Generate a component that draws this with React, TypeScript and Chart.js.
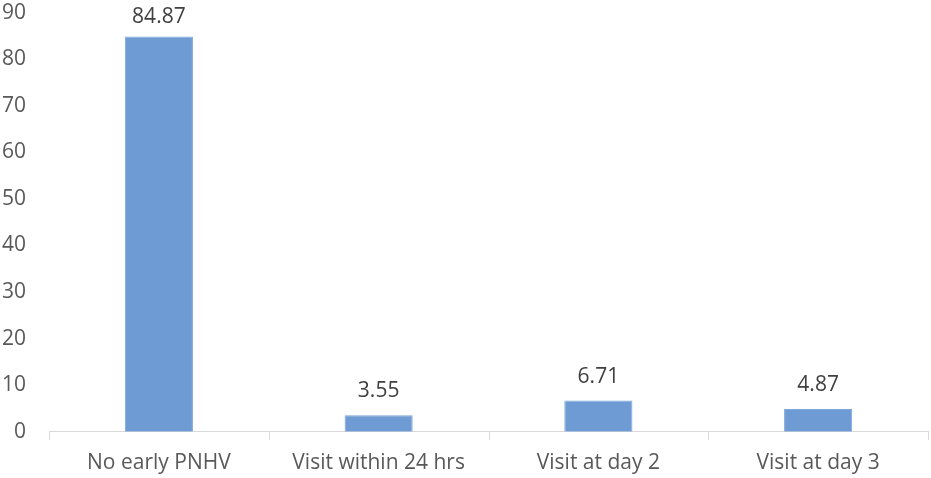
import React, { useEffect, useRef } from "react";
import { Chart, registerables } from "chart.js";

Chart.register(...registerables);

const categories = ["No early PNHV", "Visit within 24 hrs", "Visit at day 2", "Visit at day 3"];
const values = [84.87, 3.55, 6.71, 4.87];
const valueLabels = ["84.87", "3.55", "6.71", "4.87"];

const FONT = "'Open Sans', 'Noto Sans', sans-serif";
const FS = 21;

const labelPlugin = {
  id: "barLabels",
  afterDatasetsDraw(chart: any) {
    const { ctx, chartArea } = chart;
    const meta = chart.getDatasetMeta(0);
    ctx.save();
    ctx.font = `${FS}px ${FONT}`;
    ctx.fillStyle = "#404040";
    ctx.textAlign = "center";
    ctx.textBaseline = "alphabetic";
    meta.data.forEach((bar: any, i: number) => {
      const y = Math.max(bar.y - 18, chartArea.top + 10);
      ctx.fillText(valueLabels[i], bar.x, y);
    });
    ctx.restore();
  },
};

// short tick marks below the x axis at category boundaries
const xTickPlugin = {
  id: "xTicks",
  afterDraw(chart: any) {
    const { ctx, chartArea } = chart;
    const n = categories.length;
    const step = (chartArea.right - chartArea.left) / n;
    ctx.save();
    ctx.strokeStyle = "#d9d9d9";
    ctx.lineWidth = 1;
    ctx.beginPath();
    for (let i = 0; i <= n; i++) {
      const px = Math.round(chartArea.left + step * i) + 0.5;
      ctx.moveTo(px, chartArea.bottom);
      ctx.lineTo(px, chartArea.bottom + 8);
    }
    ctx.stroke();
    ctx.restore();
  },
};

export default function App() {
  const ref = useRef<HTMLCanvasElement>(null);
  useEffect(() => {
    document.body.style.margin = "0";
    const chart = new Chart(ref.current!, {
      type: "bar",
      data: {
        labels: categories,
        datasets: [
          {
            data: values,
            backgroundColor: "#6f9bd5",
            borderColor: "#7ea6da",
            borderWidth: 1,
            categoryPercentage: 1,
            barPercentage: 0.31,
          },
        ],
      },
      options: {
        animation: false,
        responsive: false,
        maintainAspectRatio: false,
        layout: { padding: { top: 12, right: 3, left: 2, bottom: 2 } },
        plugins: { legend: { display: false }, tooltip: { enabled: false } },
        scales: {
          x: {
            grid: { display: false, drawTicks: true, tickLength: 19 },
            border: { display: true, color: "#d9d9d9" },
            ticks: { color: "#595959", font: { family: FONT, size: FS }, padding: 0 },
          },
          y: {
            min: 0,
            max: 90,
            grid: { display: false, drawTicks: true, tickLength: 23 },
            border: { display: false },
            ticks: {
              stepSize: 10,
              color: "#595959",
              font: { family: FONT, size: FS },
              padding: 0,
            },
          },
        },
      },
      plugins: [labelPlugin, xTickPlugin],
    });
    return () => chart.destroy();
  }, []);
  return (
    <div style={{ width: 931, height: 478 }}>
      <canvas ref={ref} width={931} height={478} style={{ display: "block" }} />
    </div>
  );
}
